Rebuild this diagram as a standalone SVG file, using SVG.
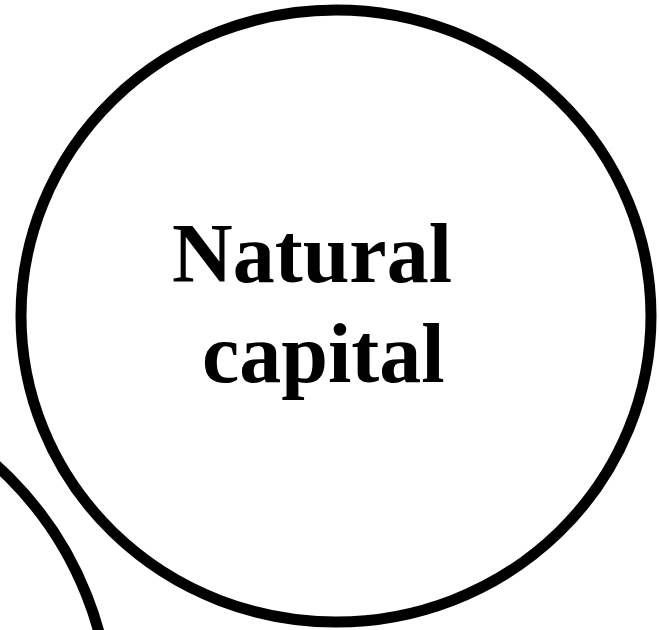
<svg xmlns="http://www.w3.org/2000/svg" width="659" height="630" viewBox="0 0 659 630">
<style>
.ring{fill:none;stroke:#000;stroke-width:11}
.lbl{font-family:"Liberation Serif","Times New Roman",serif;font-weight:bold;font-size:84px;fill:#000}
</style>
<rect width="659" height="630" fill="#fff"/>
<g id="other-circle">
<circle class="ring" cx="-236" cy="723" r="347"/>
</g>
<g id="natural-capital">
<ellipse class="ring" cx="336" cy="316" rx="315" ry="306"/>
<text class="lbl" x="172" y="282">Natural</text>
<text class="lbl" x="202" y="382">capital</text>
</g>
</svg>
